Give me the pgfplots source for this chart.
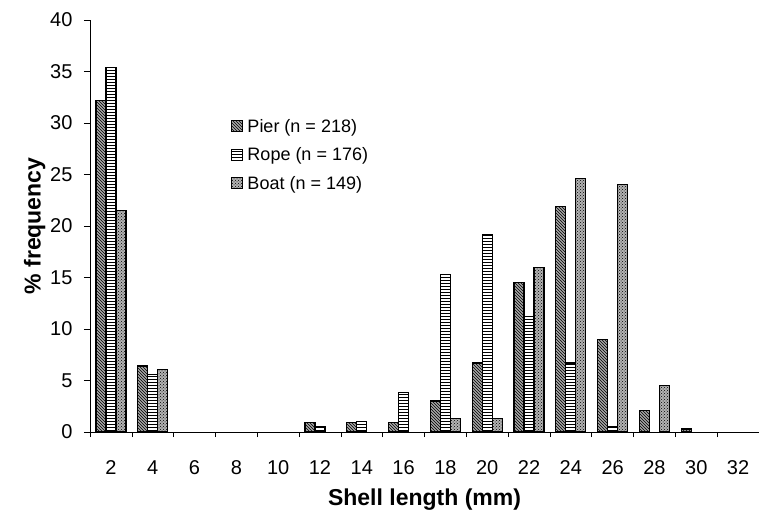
\documentclass[border=0pt]{standalone}
\usepackage{pgfplots}
\pgfplotsset{compat=1.18}
\usetikzlibrary{patterns}
\usepackage{fontspec}
\setmainfont{Liberation Sans}
\begin{document}
\begin{tikzpicture}
\begin{axis}[
  name=ax,
  width=669pt, height=412pt, scale only axis,
  ybar=0pt, bar width=10pt,
  xmin=-0.5, xmax=15.5, ymin=0, ymax=40,
  axis lines=left,
  axis line style={-, black, line width=0.8pt},
  xtick={0,...,15},
  xticklabels={2,4,6,8,10,12,14,16,18,20,22,24,26,28,30,32},
  minor xtick={-0.5,0.5,...,15.5},
  major x tick style={draw=none},
  minor tick length=5pt,
  ytick={0,5,...,40},
  major tick length=6pt,
  tick align=outside,
  tick style={black, line width=0.6pt},
  /pgf/number format/assume math mode=true,
  tick label style={font=\fontsize{20}{22}\selectfont},
  xticklabel style={yshift=-19pt},
  yticklabel style={xshift=-8pt},
  xlabel={\textbf{Shell length (mm)}},
  ylabel={\textbf{\% frequency}},
  label style={font=\fontsize{23}{26}\selectfont},
  xlabel style={yshift=-7pt},
  ylabel style={yshift=-2pt},
  legend style={at={(0.21,0.765)}, anchor=north west, draw=none, fill=none,
    font=\fontsize{18}{20}\selectfont, row sep=10pt, inner sep=0pt},
  legend cell align=left,
  legend image code/.code={\draw[#1, line width=0.8pt] (0pt,-5.5pt) rectangle (11pt,5.5pt);},
  every axis plot/.append style={draw=black, line width=1.2pt},
]
\addplot[fill=gray!70, postaction={pattern=north west lines}] coordinates {
 (0,32.2) (1,6.4) (5,0.9) (6,0.9) (7,0.9) (8,3.0) (9,6.7) (10,14.5) (11,21.9) (12,9.0) (13,2.1) (14,0.3)};
\addlegendentry{\hspace{3pt}Pier (n = 218)}
\addplot[fill=white, postaction={pattern=horizontal lines}] coordinates {
 (0,35.4) (1,5.6) (5,0.5) (6,1.0) (7,3.8) (8,15.3) (9,19.2) (10,11.2) (11,6.7) (12,0.5)};
\addlegendentry{\hspace{3pt}Rope (n = 176)}
\addplot[fill=gray!60, postaction={pattern=crosshatch dots}] coordinates {
 (0,21.5) (1,6.1) (8,1.3) (9,1.3) (10,16.0) (11,24.6) (12,24.0) (13,4.5)};
\addlegendentry{\hspace{3pt}Boat (n = 149)}
\end{axis}
\pgfresetboundingbox
\path ([xshift=-90pt,yshift=-86pt]ax.south west) rectangle ([yshift=20pt]ax.north east);
\end{tikzpicture}
\end{document}
